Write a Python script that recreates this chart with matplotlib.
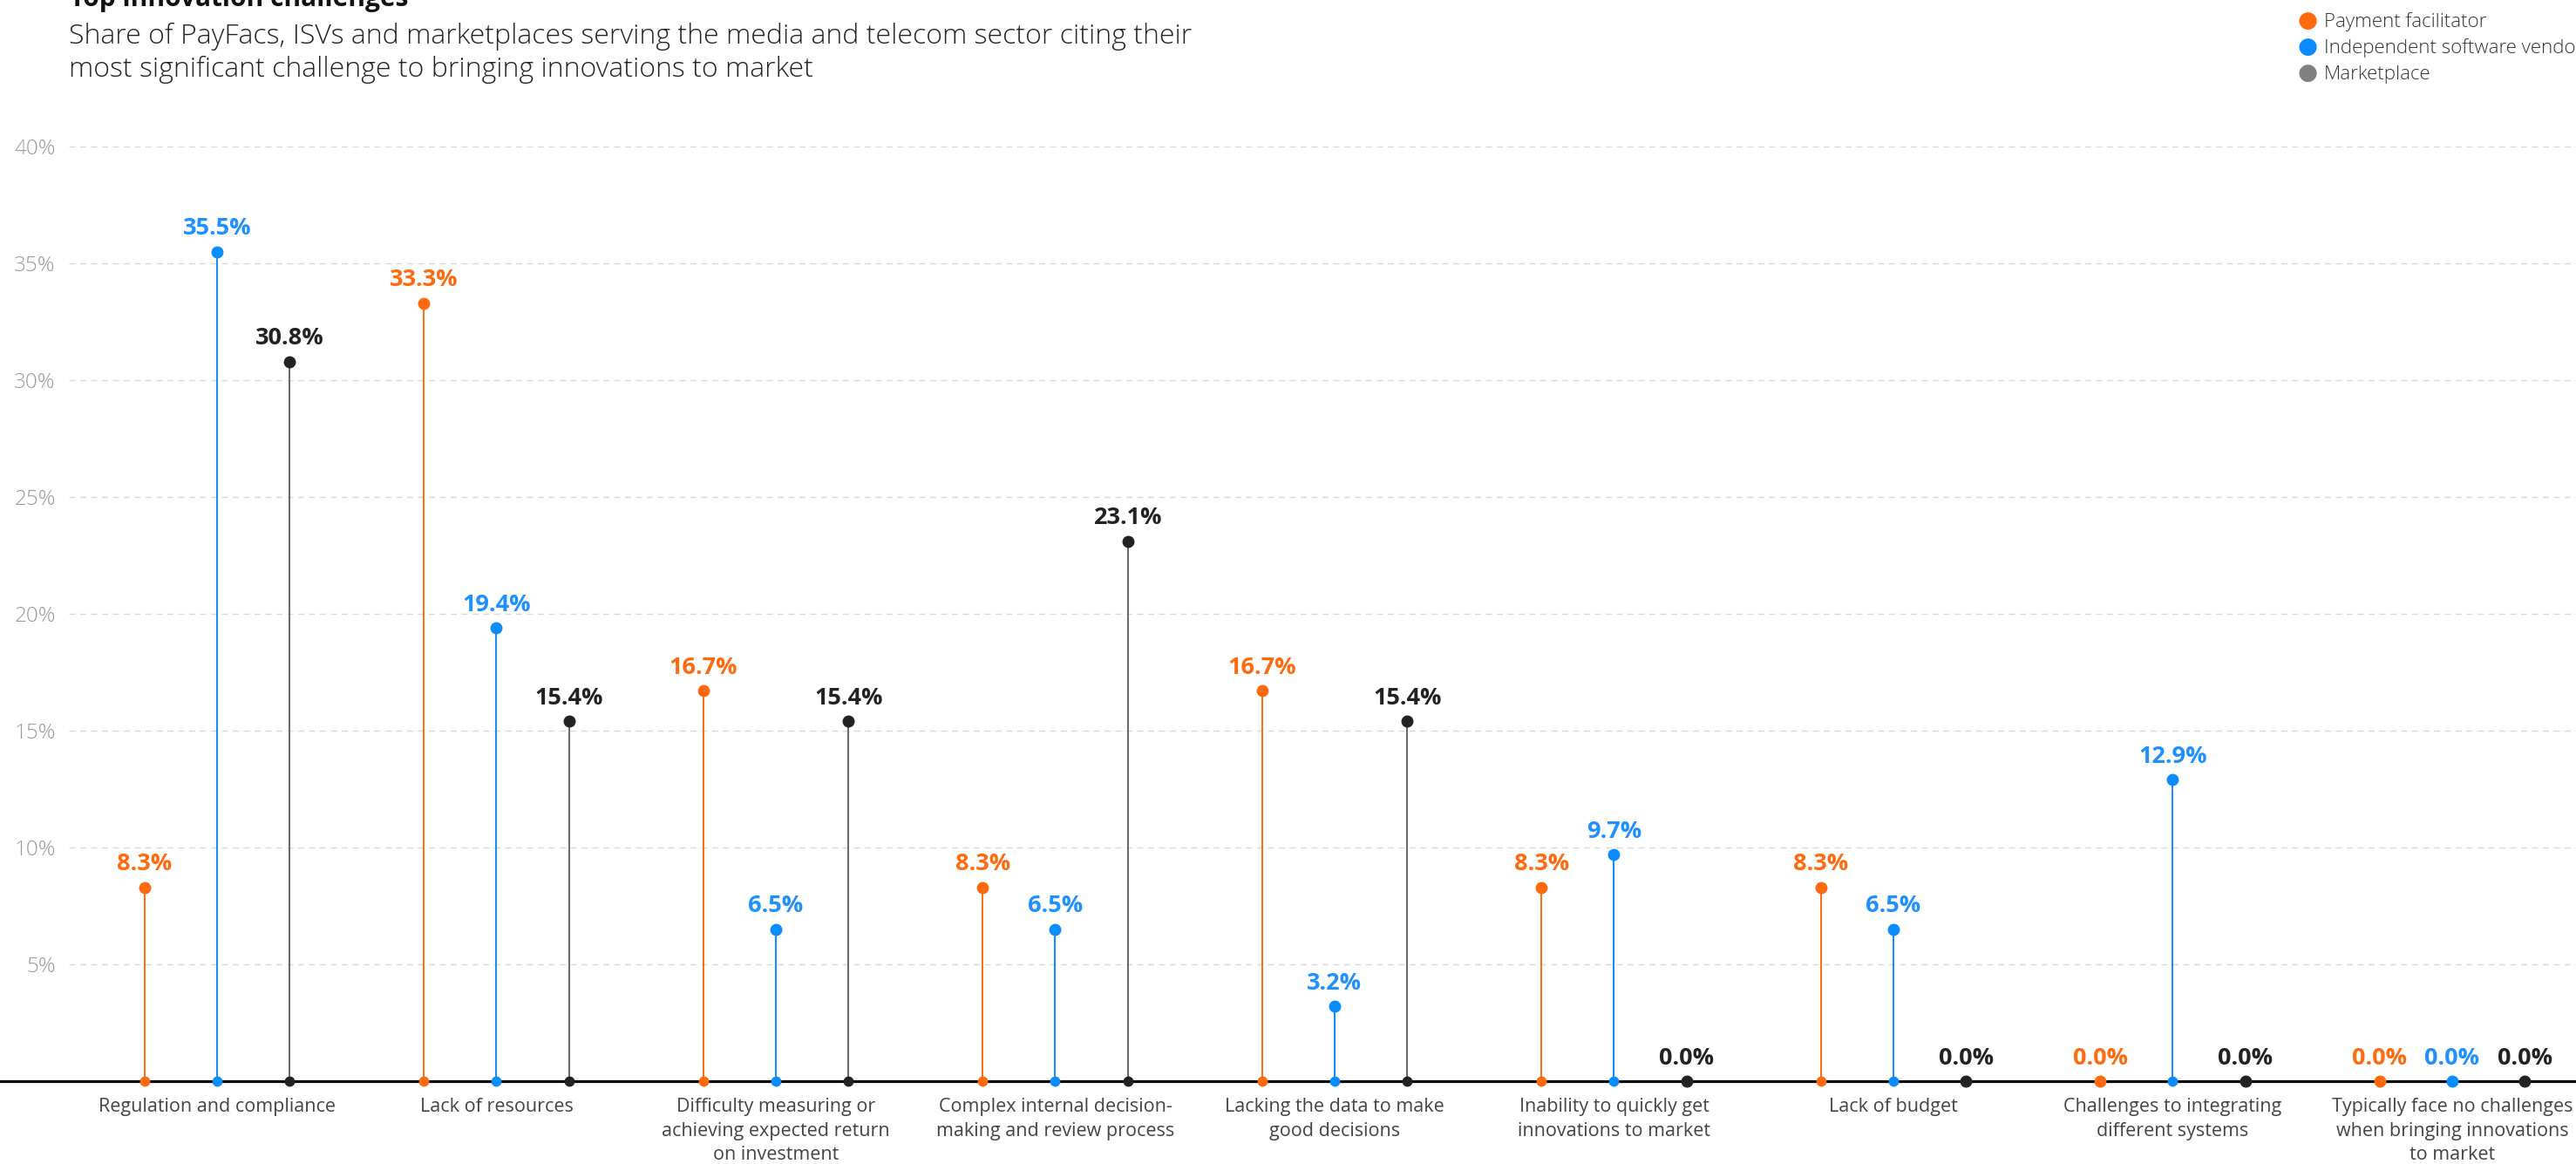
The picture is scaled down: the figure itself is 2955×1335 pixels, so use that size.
import numpy as np
import matplotlib
matplotlib.use("Agg")
import matplotlib.pyplot as plt

# Data
categories = [
    "Regulation and compliance",
    "Lack of resources",
    "Difficulty measuring or\nachieving expected return\non investment",
    "Complex internal decision-\nmaking and review process",
    "Lacking the data to make\ngood decisions",
    "Inability to quickly get\ninnovations to market",
    "Lack of budget",
    "Challenges to integrating\ndifferent systems",
    "Typically face no challenges\nwhen bringing innovations\nto market",
]
series_names = ["Payment facilitator", "Independent software vendor", "Marketplace"]
payfac = [8.3, 33.3, 16.7, 8.3, 16.7, 8.3, 8.3, 0.0, 0.0]
isv = [35.5, 19.4, 6.5, 6.5, 3.2, 9.7, 6.5, 12.9, 0.0]
marketplace = [30.8, 15.4, 15.4, 23.1, 15.4, 0.0, 0.0, 0.0, 0.0]
y_ticks = [5, 10, 15, 20, 25, 30, 35, 40]

# Styling
plt.rcParams['font.family'] = ['Open Sans', 'DejaVu Sans']
stem_colors = ["#FF6A0F", "#0A8CFF", "#666666"]
dot_colors = ["#FF6A0F", "#0A8CFF", "#222222"]
label_colors = ["#FF6A0F", "#1E90FF", "#222222"]
legend_colors = ["#FF6A0F", "#0A8CFF", "#808080"]
offsets = [-0.26, 0.0, 0.26]

W, H = 2955, 1335
fig = plt.figure(figsize=(W / 100, H / 100), dpi=100)

# axes placed so category centres land where the original has them
left_px, zero_px, top_px = 79, 1240, 168
first_px, step_px = 249, 320.5
ax = fig.add_axes([left_px / W, (H - zero_px) / H, 1 - left_px / W, (zero_px - top_px) / H])
ax.set_xlim((left_px - first_px) / step_px, (W - first_px) / step_px)
ax.set_ylim(0, 40)

x = np.arange(len(categories))
for vals, off, sc, dc, lc in zip([payfac, isv, marketplace], offsets, stem_colors, dot_colors, label_colors):
    xs = x + off
    ax.vlines(xs, 0, vals, color=sc, linewidth=1.4, zorder=3)
    ax.plot(xs, vals, 'o', color=dc, markersize=9, zorder=5, clip_on=False)
    ax.plot(xs, np.zeros(len(xs)), 'o', color=dc, markersize=7.5, zorder=5, clip_on=False)
    for xi, v in zip(xs, vals):
        ax.annotate(f"{v:.1f}%", (xi, v), xytext=(0, 14), textcoords='offset points',
                    ha='center', va='baseline', fontsize=19.5, fontweight='bold', color=lc)

# grid + baseline
for t in y_ticks:
    ax.axhline(t, color="#d9d9d9", linewidth=1, linestyle=(0, (5, 4)), zorder=1)
ax.axhline(0, xmin=-0.03, xmax=1, color="black", linewidth=2.3, zorder=4, clip_on=False)

ax.set_yticks(y_ticks)
ax.set_yticklabels([f"{t}%" for t in y_ticks], fontsize=17.5, color="#9a9a9a", fontweight='light')
ax.tick_params(axis='y', length=0, pad=11)
ax.set_xticks([])
for s in ax.spines.values():
    s.set_visible(False)

for xi, cat in zip(x, categories):
    ax.annotate(cat, (xi, 0), xytext=(0, -14), textcoords='offset points',
                ha='center', va='top', fontsize=15.5, color="#444444", linespacing=1.4)

# titles
fig.text(80 / W, 1 - 7 / H, "Top innovation challenges", fontsize=21.5, fontweight='bold',
         color="#111111", va='baseline')
fig.text(79 / W, 1 - 50 / H, "Share of PayFacs, ISVs and marketplaces serving the media and telecom sector citing their",
         fontsize=23, fontweight='light', color="#222222", va='baseline')
fig.text(79 / W, 1 - 88 / H, "most significant challenge to bringing innovations to market",
         fontsize=23, fontweight='light', color="#222222", va='baseline')

# legend
for i, (name, c) in enumerate(zip(series_names, legend_colors)):
    yy = 1 - (25 + 30 * i) / H
    fig.text(2647 / W, yy, "\u25CF", color=c, fontsize=19, ha='center', va='center')
    fig.text(2666 / W, yy, name, fontsize=16, fontweight='light', color="#333333", va='center')

fig.savefig("out.png", dpi=100)
